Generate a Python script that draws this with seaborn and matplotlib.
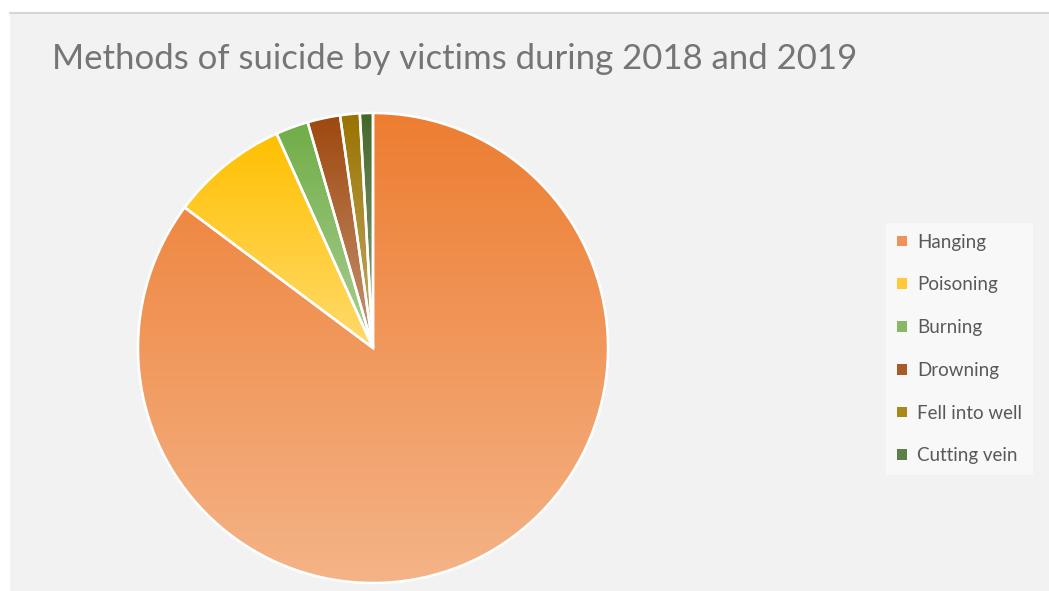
import numpy as np
import matplotlib
matplotlib.use("Agg")
import matplotlib.pyplot as plt
from matplotlib.patches import Rectangle, Patch
from matplotlib.lines import Line2D
import seaborn as sns

# ---- data ----
methods = ["Hanging", "Poisoning", "Burning", "Drowning", "Fell into well", "Cutting vein"]
victims = [190, 18, 5, 5, 3, 2]
base_colors = ["#ED7D31", "#FFC000", "#70AD47", "#9E480E", "#997300", "#43682B"]
legend_colors = ["#EE9257", "#FFC93A", "#86B865", "#A85A27", "#A88A1A", "#5E7F49"]
title = "Methods of suicide by victims during 2018 and 2019"

sns.set_theme(style="white")
plt.rcParams["font.family"] = ["Lato", "DejaVu Sans"]

W, H = 1049, 591
fig = plt.figure(figsize=(W / 100, H / 100), dpi=100)
fig.patch.set_facecolor("white")

# chart area background
fig.patches.append(Rectangle((10 / W, 0), 1 - 10 / W, (H - 13) / H, transform=fig.transFigure,
                             facecolor="#F2F2F2", edgecolor="none", zorder=0))
fig.add_artist(Line2D([10 / W, 1], [(H - 13) / H] * 2, transform=fig.transFigure,
                      color="#D6D6D6", lw=1.5, zorder=1))

# pie axes: center (373,348), r=235 px
cx, cy, r = 373, 348, 235
ax = fig.add_axes([(cx - r) / W, (H - cy - r) / H, 2 * r / W, 2 * r / H])
ax.set_zorder(5)
ax.patch.set_visible(False)
ax.axis("off")

wedges, _ = ax.pie(victims, colors=base_colors, startangle=90, counterclock=False,
                   radius=1, wedgeprops=dict(edgecolor="white", linewidth=1.6))

def lighten(c, f=0.42):
    rgb = np.array(matplotlib.colors.to_rgb(c))
    return tuple(rgb + (1 - rgb) * f)

for w, c in zip(wedges, base_colors):
    w.set_clip_on(False)
    verts = w.get_path().vertices
    x0, x1 = verts[:, 0].min(), verts[:, 0].max()
    y0, y1 = verts[:, 1].min(), verts[:, 1].max()
    cmap = sns.blend_palette([lighten(c), c], n_colors=256, as_cmap=True)
    grad = np.linspace(0, 1, 256).reshape(-1, 1)
    im = ax.imshow(grad, cmap=cmap, extent=(x0, x1, y0, y1), origin="lower",
                   aspect="auto", zorder=w.get_zorder() + 0.1, interpolation="bilinear")
    im.set_clip_path(w)
    edge = matplotlib.patches.PathPatch(w.get_path(), facecolor="none", edgecolor="white",
                                        linewidth=1.8, transform=ax.transData,
                                        zorder=w.get_zorder() + 0.2, clip_on=False)
    ax.add_patch(edge)
ax.set_xlim(-1.0, 1.0)
ax.set_ylim(-1.0, 1.0)
ax.set_aspect("equal")

# title
fig.text(52 / W, (H - 69) / H, title, fontsize=25, color="#757575",
         ha="left", va="baseline")

# legend
handles = [Patch(facecolor=c, edgecolor="none") for c in legend_colors]
leg = fig.legend(handles, methods, loc="center left",
                 bbox_to_anchor=(886 / W, (H - 349) / H), bbox_transform=fig.transFigure,
                 fontsize=13.5, handlelength=0.5, handleheight=0.5, handletextpad=0.55,
                 labelspacing=1.37, borderpad=0.6, borderaxespad=0, frameon=True,
                 fancybox=False, facecolor="#F8F8F8", edgecolor="none", framealpha=1)
leg._legend_box.align = "left"
leg.set_zorder(6)
for t in leg.get_texts():
    t.set_color("#595959")
leg.get_frame().set_width(154)

fig.savefig("out.png", dpi=100, facecolor=fig.get_facecolor())
